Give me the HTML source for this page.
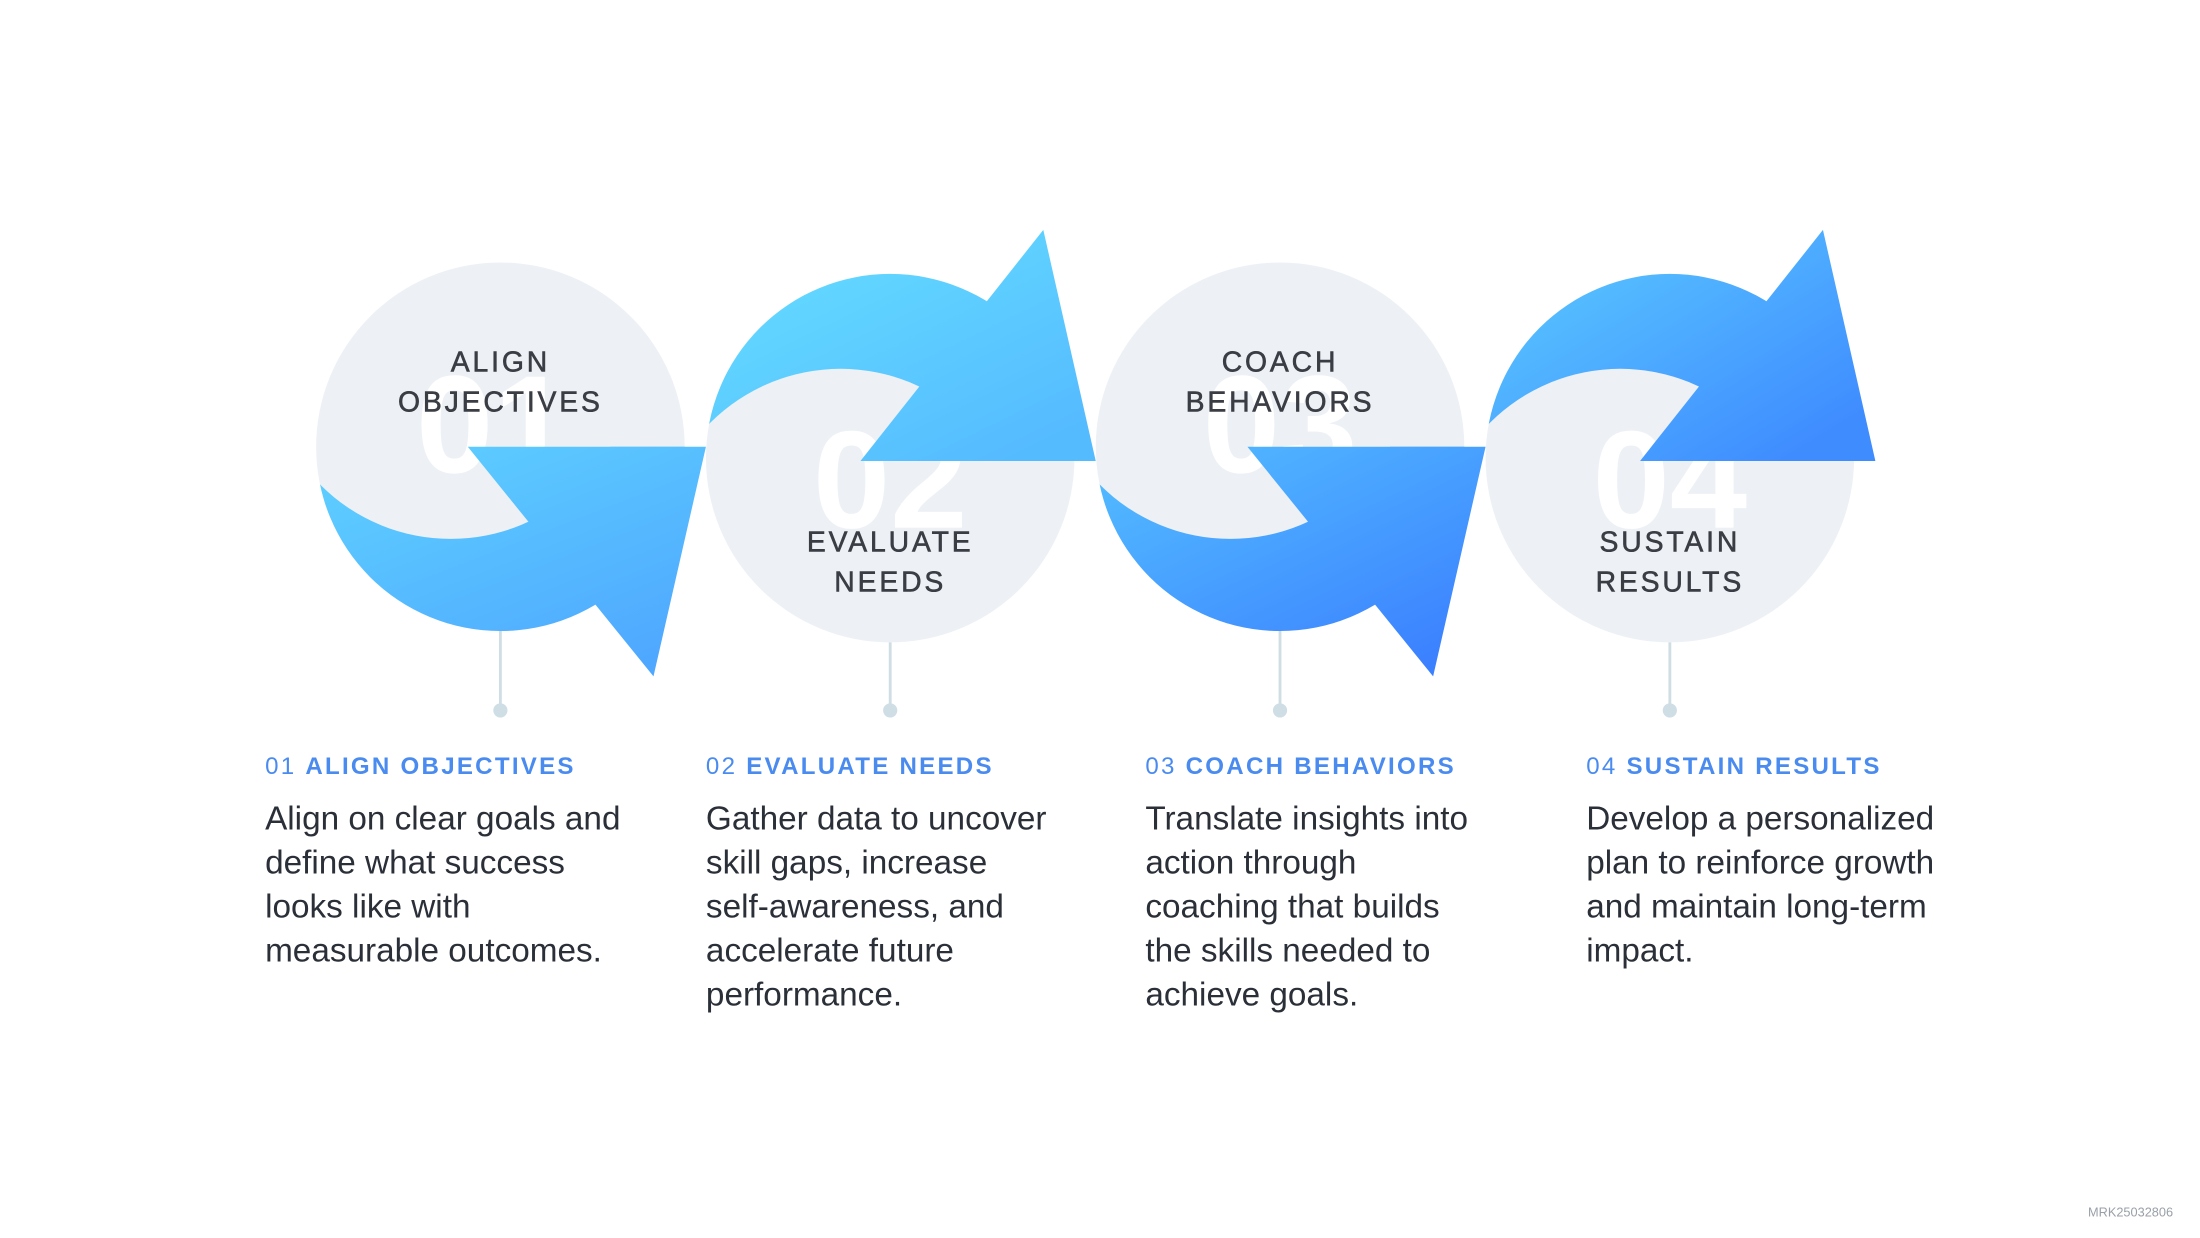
<!DOCTYPE html>
<html><head><meta charset="utf-8"><style>html,body{margin:0;padding:0;background:#fff}svg{display:block}</style></head>
<body>
<svg width="2200" height="1238" viewBox="0 0 1552 873" xmlns="http://www.w3.org/2000/svg" font-family="'Liberation Sans', sans-serif">
<defs>
<linearGradient id="g1" gradientUnits="userSpaceOnUse" x1="330" y1="250" x2="420" y2="480"><stop offset="0" stop-color="#60d6ff"/><stop offset="1" stop-color="#4fa8ff"/></linearGradient>
<linearGradient id="g2" gradientUnits="userSpaceOnUse" x1="620" y1="165" x2="700" y2="330"><stop offset="0" stop-color="#62d8ff"/><stop offset="1" stop-color="#55bbff"/></linearGradient>
<linearGradient id="g3" gradientUnits="userSpaceOnUse" x1="330" y1="250" x2="440" y2="480"><stop offset="0" stop-color="#55c2ff"/><stop offset="1" stop-color="#3b80ff"/></linearGradient>
<linearGradient id="g4" gradientUnits="userSpaceOnUse" x1="600" y1="165" x2="700" y2="330"><stop offset="0" stop-color="#56c0ff"/><stop offset="1" stop-color="#3f8cff"/></linearGradient>
<mask id="m1" maskUnits="userSpaceOnUse" x="-600" y="0" width="2200" height="873"><path d="M223 315 A130 130 0 0 0 483 315 Z" fill="#fff"/><circle cx="318" cy="250" r="130" fill="#000"/></mask>
<mask id="m2" maskUnits="userSpaceOnUse" x="-600" y="0" width="2200" height="873"><path d="M498 323 A130 130 0 0 1 758 323 Z" fill="#fff"/><circle cx="593" cy="390" r="130" fill="#000"/></mask>
</defs>
<g fill="#edf1f5">
<circle cx="353" cy="315" r="130"/><circle cx="628" cy="323" r="130"/><circle cx="903" cy="315" r="130"/><circle cx="1178" cy="323" r="130"/>
</g>
<g stroke="#cfdde5" stroke-width="2"><line x1="353" y1="445" x2="353" y2="500"/><line x1="628" y1="453" x2="628" y2="500"/><line x1="903" y1="445" x2="903" y2="500"/><line x1="1178" y1="453" x2="1178" y2="500"/></g>
<g fill="#cfdde5"><circle cx="353" cy="501" r="5"/><circle cx="628" cy="501" r="5"/><circle cx="903" cy="501" r="5"/><circle cx="1178" cy="501" r="5"/></g>
<g fill="#fff" font-size="98" font-weight="bold" text-anchor="middle">
<text x="348" y="333">01</text><text x="628" y="372">02</text><text x="903" y="333">03</text><text x="1178" y="372">04</text>
</g>
<g fill="url(#g1)"><rect x="0" y="0" width="1552" height="873" mask="url(#m1)"/><polygon points="330,315 498,315 461,477"/></g>
<g fill="url(#g2)"><rect x="0" y="0" width="1552" height="873" mask="url(#m2)"/><polygon points="607,325 773,325 736,162"/></g>
<g transform="translate(550,0)"><g fill="url(#g3)"><rect x="-550" y="0" width="1552" height="873" mask="url(#m1)"/><polygon points="330,315 498,315 461,477"/></g>
<g fill="url(#g4)"><rect x="-550" y="0" width="1552" height="873" mask="url(#m2)"/><polygon points="607,325 773,325 736,162"/></g></g>
<g fill="#3a3d44" stroke="#3a3d44" stroke-width="0.4" font-size="20" text-anchor="middle" letter-spacing="2">
<text x="353" y="262">ALIGN</text><text x="353" y="290">OBJECTIVES</text>
<text x="628" y="389">EVALUATE</text><text x="628" y="417">NEEDS</text>
<text x="903" y="262">COACH</text><text x="903" y="290">BEHAVIORS</text>
<text x="1178" y="389">SUSTAIN</text><text x="1178" y="417">RESULTS</text>
</g>
<g font-size="17" fill="#4a8bf0" letter-spacing="1.6">
<text x="187" y="546">01 <tspan font-weight="bold">ALIGN OBJECTIVES</tspan></text>
<text x="498" y="546">02 <tspan font-weight="bold">EVALUATE NEEDS</tspan></text>
<text x="808" y="546">03 <tspan font-weight="bold">COACH BEHAVIORS</tspan></text>
<text x="1119" y="546">04 <tspan font-weight="bold">SUSTAIN RESULTS</tspan></text>
</g>
<g font-size="23.5" fill="#2a2f38">
<text x="187" y="585">Align on clear goals and</text><text x="187" y="616">define what success</text><text x="187" y="647">looks like with</text><text x="187" y="678">measurable outcomes.</text>
<text x="498" y="585">Gather data to uncover</text><text x="498" y="616">skill gaps, increase</text><text x="498" y="647">self-awareness, and</text><text x="498" y="678">accelerate future</text><text x="498" y="709">performance.</text>
<text x="808" y="585">Translate insights into</text><text x="808" y="616">action through</text><text x="808" y="647">coaching that builds</text><text x="808" y="678">the skills needed to</text><text x="808" y="709">achieve goals.</text>
<text x="1119" y="585">Develop a personalized</text><text x="1119" y="616">plan to reinforce growth</text><text x="1119" y="647">and maintain long-term</text><text x="1119" y="678">impact.</text>
</g>
<text x="1533" y="858" font-size="9" fill="#9aa0a8" text-anchor="end">MRK25032806</text>
</svg>
</body></html>
